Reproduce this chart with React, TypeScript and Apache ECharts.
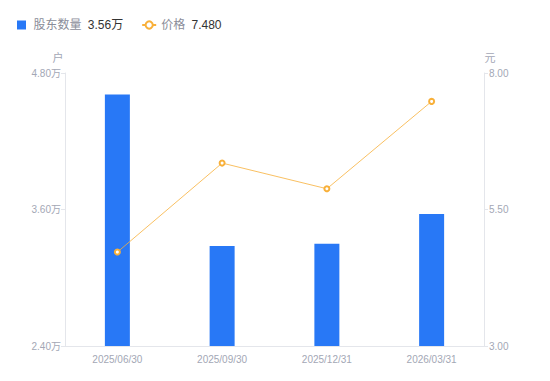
import React, { useEffect, useRef } from "react";
import * as echarts from "echarts";

const categories = ["2025/06/30", "2025/09/30", "2025/12/31", "2026/03/31"];
const holders = [46100, 32800, 33000, 35600];
const prices = [4.72, 6.35, 5.88, 7.48];
const leftTicks = { min: 24000, max: 48000, interval: 12000 };
const rightTicks = { min: 3, max: 8, interval: 2.5 };

const BLUE = "#2878f6";
const ORANGE = "#f8b03a";
const LABEL = "#a3a7b5";
const AXIS = "#e4e6eb";
const FONT = "'Liberation Sans', Arial, 'Noto Sans CJK SC', sans-serif";

export default function App() {
  const ref = useRef<HTMLDivElement>(null);
  useEffect(() => {
    if (!ref.current) return;
    const chart = echarts.init(ref.current, undefined, { renderer: "svg" });
    const lastH = (holders[holders.length - 1] / 10000).toFixed(2) + "万";
    const lastP = prices[prices.length - 1].toFixed(3);
    chart.setOption({
      animation: false,
      textStyle: { fontFamily: FONT },
      legend: {
        left: 4,
        top: 6,
        itemWidth: 14,
        itemHeight: 9,
        itemGap: 18,
        data: [
          { name: "股东数量", icon: "path://M0 0h10v10h-10z" },
          { name: "价格" },
        ],
        formatter: (name: string) =>
          name === "股东数量"
            ? `{n|${name}} {v|${lastH}}`
            : `{n|${name}} {v|${lastP}}`,
        textStyle: {
          fontFamily: FONT,
          rich: {
            n: { color: "#8a8d99", fontSize: 12, fontFamily: FONT },
            v: { color: "#333", fontSize: 12, fontFamily: FONT, padding: [0, 0, 0, 3] },
          },
        },
      },
      grid: { left: 57, right: 58, top: 65, bottom: 27 },
      xAxis: {
        type: "category",
        data: categories,
        axisLine: { lineStyle: { color: AXIS } },
        axisTick: { show: false },
        axisLabel: { color: LABEL, fontSize: 10, margin: 8 },
      },
      yAxis: [
        {
          type: "value",
          name: "户",
          nameGap: 10,
          nameTextStyle: { color: LABEL, fontSize: 11, align: "center", padding: [0, 14, 0, 0] },
          min: leftTicks.min,
          max: leftTicks.max,
          interval: leftTicks.interval,
          splitLine: { show: false },
          axisLine: { show: true, lineStyle: { color: AXIS } },
          axisTick: { show: true, length: 4, lineStyle: { color: AXIS } },
          axisLabel: {
            color: LABEL,
            fontSize: 10,
            margin: 4,
            formatter: (v: number) => (v / 10000).toFixed(2) + "万",
          },
        },
        {
          type: "value",
          name: "元",
          nameGap: 10,
          nameTextStyle: { color: LABEL, fontSize: 11, align: "center", padding: [0, 0, 0, 12] },
          min: rightTicks.min,
          max: rightTicks.max,
          interval: rightTicks.interval,
          splitLine: { show: false },
          axisLine: { show: true, lineStyle: { color: AXIS } },
          axisTick: { show: true, length: 4, lineStyle: { color: AXIS } },
          axisLabel: {
            color: LABEL,
            fontSize: 10,
            margin: 5,
            formatter: (v: number) => v.toFixed(2),
          },
        },
      ],
      series: [
        {
          name: "股东数量",
          type: "bar",
          yAxisIndex: 0,
          data: holders,
          barWidth: 25,
          itemStyle: { color: BLUE },
        },
        {
          name: "价格",
          type: "line",
          yAxisIndex: 1,
          data: prices,
          symbol: "emptyCircle",
          symbolSize: 5,
          itemStyle: { color: ORANGE, borderWidth: 1.5 },
          lineStyle: { color: ORANGE, width: 0.8 },
        },
      ],
    });
    return () => chart.dispose();
  }, []);
  return <div ref={ref} style={{ width: 534, height: 365 }} />;
}
